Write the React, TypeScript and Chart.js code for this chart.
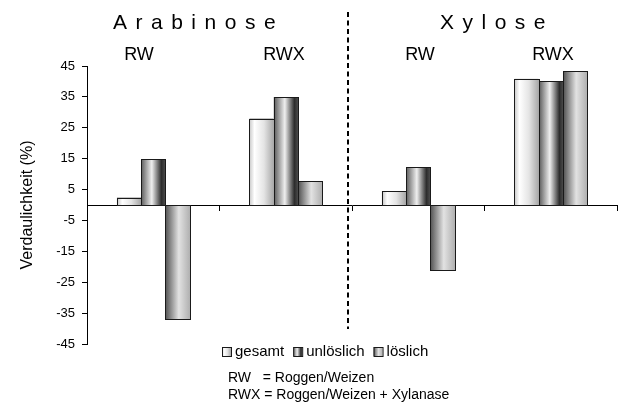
import React, { useEffect, useRef } from "react";
import { Chart, registerables } from "chart.js";

Chart.register(...registerables);

// ---- data ----
const categories = ["Arabinose RW", "Arabinose RWX", "Xylose RW", "Xylose RWX"];
const seriesNames = ["gesamt", "unlöslich", "löslich"];
const gesamt = [2.4, 28.0, 4.5, 40.9];
const unloeslich = [14.8, 35.0, 12.3, 40.0];
const loeslich = [-36.8, 7.8, -21.0, 43.3];
const yTicks = [-45, -35, -25, -15, -5, 5, 15, 25, 35, 45];
const groupTitles = ["Arabinose", "Xylose"];
const subLabels = ["RW", "RWX", "RW", "RWX"];
const yTitle = "Verdaulichkeit (%)";
const footnotes = ["RW   = Roggen/Weizen", "RWX = Roggen/Weizen + Xylanase"];

// ---- styles ----
const FONT = "'Liberation Sans', Arial, Helvetica, sans-serif";
const gradStops: [number, string][][] = [
  [[0, "#c4c4c4"], [0.22, "#ffffff"], [0.6, "#e4e4e4"], [1, "#a6a6a6"]],
  [[0, "#5a5a5a"], [0.45, "#efefef"], [0.85, "#2c2c2c"], [1, "#4a4a4a"]],
  [[0, "#4e4e4e"], [0.55, "#e2e2e2"], [1, "#b0b0b0"]],
];
const solidColors = ["#e0e0e0", "#8a8a8a", "#a8a8a8"];
const titleX = [113, 440];
const subLabelX = [139, 284, 420, 553];

function makeGrad(ctx: CanvasRenderingContext2D, left: number, width: number, idx: number) {
  const g = ctx.createLinearGradient(left, 0, left + width, 0);
  gradStops[idx].forEach(([o, c]) => g.addColorStop(o, c));
  return g;
}

const gradientBars = {
  id: "gradientBars",
  afterDatasetDraw(chart: any, args: any) {
    const ctx: CanvasRenderingContext2D = chart.ctx;
    const idx = args.index;
    ctx.save();
    args.meta.data.forEach((bar: any) => {
      const { x, y, base, width } = bar.getProps(["x", "y", "base", "width"], true);
      const left = Math.round(x - width / 2);
      const right = Math.round(x + width / 2);
      const top = Math.round(Math.min(y, base));
      const bottom = Math.round(Math.max(y, base));
      ctx.fillStyle = makeGrad(ctx, left, right - left, idx);
      ctx.fillRect(left, top, right - left, bottom - top);
      ctx.strokeStyle = "#1a1a1a";
      ctx.lineWidth = 1;
      ctx.strokeRect(left + 0.5, top + 0.5, right - left, bottom - top);
    });
    ctx.restore();
  },
};

const decorations = {
  id: "decorations",
  afterDraw(chart: any) {
    const ctx: CanvasRenderingContext2D = chart.ctx;
    ctx.save();
    ctx.fillStyle = "#000";
    ctx.textBaseline = "middle";
    // group titles
    ctx.font = `21px ${FONT}`;
    (ctx as any).letterSpacing = "8.5px";
    ctx.textAlign = "left";
    groupTitles.forEach((t, i) => ctx.fillText(t, titleX[i], 23));
    (ctx as any).letterSpacing = "0px";
    // sub labels
    ctx.font = `18px ${FONT}`;
    ctx.textAlign = "center";
    subLabels.forEach((t, i) => ctx.fillText(t, subLabelX[i], 55));
    // dashed separator
    ctx.strokeStyle = "#000";
    ctx.lineWidth = 2;
    ctx.setLineDash([5, 3.5]);
    ctx.beginPath();
    ctx.moveTo(348, 12);
    ctx.lineTo(348, 329);
    ctx.stroke();
    ctx.setLineDash([]);
    // legend
    ctx.font = `15px ${FONT}`;
    ctx.textAlign = "left";
    let lx = 222;
    const ly = 351;
    seriesNames.forEach((name, i) => {
      ctx.fillStyle = makeGrad(ctx, lx, 9, i);
      ctx.fillRect(lx, ly - 4, 9, 9);
      ctx.strokeStyle = "#1a1a1a";
      ctx.lineWidth = 1;
      ctx.strokeRect(lx + 0.5, ly - 3.5, 9, 9);
      ctx.fillStyle = "#000";
      ctx.fillText(name, lx + 13, ly + 1);
      lx += 13 + ctx.measureText(name).width + 9;
    });
    // footnotes
    ctx.font = `14px ${FONT}`;
    footnotes.forEach((t, i) => ctx.fillText(t, 228, 378 + i * 17));
    ctx.restore();
  },
};

export default function App() {
  const ref = useRef<HTMLCanvasElement>(null);
  useEffect(() => {
    if (!ref.current) return;
    Chart.defaults.font.family = FONT;
    const data = [gesamt, unloeslich, loeslich];
    const chart = new Chart(ref.current, {
      type: "bar",
      data: {
        labels: categories,
        datasets: seriesNames.map((name, i) => ({
          label: name,
          data: data[i],
          backgroundColor: solidColors[i],
          borderColor: "#1a1a1a",
          borderWidth: 1,
          barPercentage: 1,
          categoryPercentage: 0.55,
        })),
      },
      options: {
        responsive: false,
        animation: false,
        devicePixelRatio: 1,
        layout: { padding: { left: 0, right: 5, top: 66, bottom: 64 } },
        plugins: { legend: { display: false }, tooltip: { enabled: false } },
        scales: {
          x: {
            type: "category",
            position: { y: 0 } as any,
            offset: true,
            grid: {
              offset: true,
              drawOnChartArea: false,
              drawTicks: true,
              tickLength: 5,
              color: "#000",
            },
            border: { display: true, color: "#000", width: 1 },
            ticks: { display: false },
          },
          y: {
            min: -45,
            max: 45,
            afterBuildTicks: (s: any) => {
              s.ticks = yTicks.map((v) => ({ value: v }));
            },
            afterFit: (s: any) => {
              s.width = 87;
            },
            grid: { drawOnChartArea: false, drawTicks: true, tickLength: 5, color: "#000" },
            border: { display: true, color: "#000", width: 1 },
            ticks: { color: "#000", font: { size: 13, family: FONT }, padding: 7 },
            title: {
              display: true,
              text: yTitle,
              color: "#000",
              font: { size: 16, family: FONT },
              padding: { top: 18, bottom: 0 },
            },
          },
        },
      },
      plugins: [gradientBars, decorations],
    });
    return () => chart.destroy();
  }, []);
  return (
    <div style={{ position: "fixed", left: 0, top: 0, width: 622, height: 408, background: "#fff" }}>
      <canvas ref={ref} width={622} height={408} />
    </div>
  );
}
